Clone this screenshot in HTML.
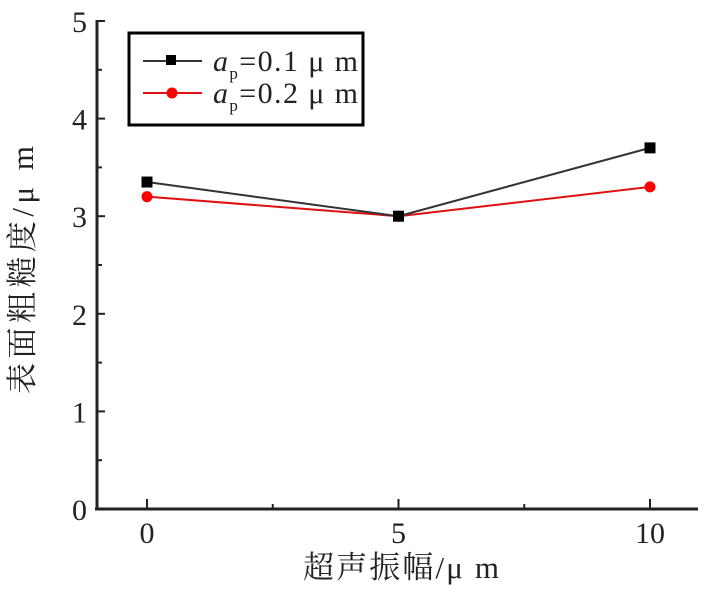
<!DOCTYPE html>
<html><head><meta charset="utf-8"><style>
body{margin:0;background:#fff}
svg text{font-family:"Liberation Serif","Noto Serif CJK SC",serif;fill:#222}
</style></head><body>
<svg width="714" height="591" viewBox="0 0 714 591">
<g id="axes"></g>
<g id="series"></g>
<text x="33" y="270" font-size="31" text-anchor="middle" transform="rotate(-90 33 270)" textLength="248">表面粗糙度/μ m</text>
<text x="401" y="578" font-size="31" text-anchor="middle" textLength="196">超声振幅/μ m</text>
<g>
<rect x="129" y="33" width="234" height="92" fill="#fff" stroke="#000" stroke-width="3"/>
<line x1="143" y1="61" x2="202" y2="61" stroke="#333" stroke-width="2"/>
<rect x="166" y="55" width="10" height="10" fill="#000"/>
<text x="213" y="71" font-size="30" textLength="145"><tspan font-style="italic">a</tspan><tspan font-size="17" dy="8">p</tspan><tspan dy="-8">=0.1 μ m</tspan></text>
<line x1="143" y1="93" x2="202" y2="93" stroke="#e01010" stroke-width="2"/>
<circle cx="172" cy="93" r="5.5" fill="#f00"/>
<text x="213" y="103" font-size="30" textLength="145"><tspan font-style="italic">a</tspan><tspan font-size="17" dy="8">p</tspan><tspan dy="-8">=0.2 μ m</tspan></text>
</g>
</svg>
<script>
const xCats=[0,5,10];
const s1=[3.35,3.0,3.7];
const s2=[3.2,3.0,3.3];
const yTicks=[0,1,2,3,4,5];
const xTicks=[0,5,10];
const NS="http://www.w3.org/2000/svg";
const X=v=>147+(v/10)*503;
const Y=v=>509-v*97.6;
function mk(t,a,p){const e=document.createElementNS(NS,t);for(const k in a)e.setAttribute(k,a[k]);p.appendChild(e);return e;}
const ax=document.getElementById('axes');
const yl=mk('line',{x1:97,y1:20,x2:97,y2:510,stroke:'#222','stroke-width':3},ax);


const xl=mk('line',{x1:95,y1:509,x2:698,y2:509,stroke:'#222','stroke-width':3},ax);


yTicks.forEach(v=>{
  mk('line',{x1:97,y1:Y(v),x2:105,y2:Y(v),stroke:'#222','stroke-width':2},ax);
  if(v<5) mk('line',{x1:97,y1:Y(v+0.5),x2:102,y2:Y(v+0.5),stroke:'#222','stroke-width':2},ax);
  const t=mk('text',{x:87,y:Y(v)+11,'font-size':30,'text-anchor':'end'},ax);
  t.textContent=v;
  
  
});
xTicks.forEach(v=>{
  mk('line',{x1:X(v),y1:509,x2:X(v),y2:499,stroke:'#222','stroke-width':2},ax);
  const t=mk('text',{x:X(v),y:543,'font-size':30,'text-anchor':'middle'},ax);
  t.textContent=v;
  
  
});
[2.5,7.5].forEach(v=>mk('line',{x1:X(v),y1:509,x2:X(v),y2:504,stroke:'#222','stroke-width':2},ax));
const sg=document.getElementById('series');
function draw(data,color,sq,name){
  const pl=mk('polyline',{points:data.map((v,i)=>X(xCats[i])+','+Y(v)).join(' '),fill:'none',stroke:color,'stroke-width':2},sg);
  
  
  data.forEach((v,i)=>{
    const m=sq?mk('rect',{x:X(xCats[i])-5.5,y:Y(v)-5.5,width:11,height:11,fill:'#000'},sg):mk('circle',{cx:X(xCats[i]),cy:Y(v),r:5.5,fill:'#f00'},sg);
    
    
  });
}
draw(s2,'#e01010',false,'series-02');
draw(s1,'#333',true,'series-01');
</script>
</body></html>
